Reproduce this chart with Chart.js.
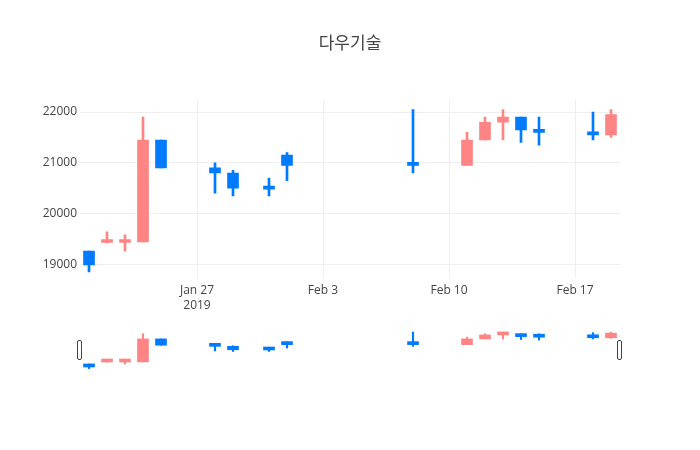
<!DOCTYPE html>
<html>
<head>
<meta charset="utf-8">
<script src="https://cdn.jsdelivr.net/npm/chart.js@4/dist/chart.umd.min.js"></script>
<style>
  body { margin: 0; background: #fff; }
  #wrap { position: relative; width: 700px; height: 450px; }
  #main { position: absolute; left: 0; top: 0; }
  #slider { position: absolute; left: 0; top: 330px; }
</style>
</head>
<body>
<div id="wrap">
  <canvas id="main" width="700" height="320"></canvas>
  <canvas id="slider" width="700" height="40"></canvas>
</div>
<script>
// data
var dates = ['2019-01-21', '2019-01-22', '2019-01-23', '2019-01-24', '2019-01-25',
             '2019-01-28', '2019-01-29', '2019-01-31', '2019-02-01', '2019-02-08',
             '2019-02-11', '2019-02-12', '2019-02-13', '2019-02-14', '2019-02-15',
             '2019-02-18', '2019-02-19'];
var opens  = [19260, 19430, 19430, 19440, 21450, 20900, 20800, 20520, 21150, 21000,
              20950, 21450, 21800, 21900, 21650, 21600, 21550];
var closes = [18990, 19450, 19450, 21450, 20900, 20800, 20500, 20480, 20950, 20950,
              21450, 21800, 21900, 21650, 21600, 21550, 21950];
var highs  = [19260, 19640, 19580, 21900, 21450, 21000, 20850, 20700, 21200, 22050,
              21600, 21900, 22050, 21900, 21900, 22000, 22050];
var lows   = [18850, 19420, 19260, 19440, 20900, 20400, 20350, 20350, 20650, 20800,
              20950, 21450, 21450, 21400, 21350, 21450, 21500];
var tickDates  = ['2019-01-27', '2019-02-03', '2019-02-10', '2019-02-17'];
var tickLabels = [['Jan 27', '2019'], 'Feb 3', 'Feb 10', 'Feb 17'];
var yTicks = [19000, 20000, 21000, 22000];

var UP = 'rgb(255,133,133)';
var DOWN = 'rgb(0,122,255)';

// days counted from Jan 27
var base = Date.UTC(2019, 0, 27);
function dayIdx(s) {
    var p = s.split('-');
    return (Date.UTC(+p[0], +p[1] - 1, +p[2]) - base) / 86400000;
}

var colors = dates.map(function(d, i) { return closes[i] >= opens[i] ? UP : DOWN; });
var bodies = dates.map(function(d, i) { return {x: dayIdx(d), y: [opens[i], closes[i]]}; });
var wicks = dates.map(function(d, i) { return {x: dayIdx(d), y: [lows[i], highs[i]]}; });
var tickPos = tickDates.map(dayIdx);

Chart.defaults.font.family = '"Open Sans", "Noto Sans CJK KR", sans-serif';
Chart.defaults.color = '#444';

function candleSets(wickWidth) {
    return [{
        data: wicks,
        backgroundColor: colors,
        barThickness: wickWidth,
        grouped: false
    }, {
        data: bodies,
        backgroundColor: colors,
        barThickness: 11,
        minBarLength: 3,
        grouped: false
    }];
}

var xMin = -6.5, xMax = 23.5, yMin = 18730, yMax = 22230;

new Chart(document.getElementById('main').getContext('2d'), {
    type: 'bar',
    data: { datasets: candleSets(2) },
    options: {
        responsive: false,
        animation: false,
        layout: { padding: 0 },
        plugins: {
            legend: { display: false },
            tooltip: { enabled: false },
            title: {
                display: true,
                text: '다우기술',
                color: '#444',
                font: { size: 17, weight: 'normal' },
                padding: { top: 34, bottom: 46 }
            }
        },
        scales: {
            x: {
                type: 'linear',
                min: xMin, max: xMax,
                offset: false,
                afterBuildTicks: function(scale) {
                    scale.ticks = tickPos.map(function(v) { return {value: v}; });
                },
                afterFit: function(scale) { scale.height = 42; },
                ticks: {
                    autoSkip: false,
                    maxRotation: 0,
                    padding: 5,
                    font: { size: 12, lineHeight: 1.25 },
                    callback: function(v) {
                        var k = tickPos.indexOf(v);
                        return k >= 0 ? tickLabels[k] : '';
                    }
                },
                grid: { color: '#eee', drawTicks: false, offset: false },
                border: { display: false }
            },
            y: {
                min: yMin, max: yMax,
                afterBuildTicks: function(scale) {
                    scale.ticks = yTicks.map(function(v) { return {value: v}; });
                },
                afterFit: function(scale) { scale.width = 80; },
                ticks: {
                    padding: 3,
                    font: { size: 12 },
                    callback: function(v) { return String(v); }
                },
                grid: { color: '#eee', drawTicks: false },
                border: { display: false }
            },
            // empty axis that keeps the right margin, so the title stays centred on the page
            right: {
                position: 'right',
                min: yMin, max: yMax,
                afterFit: function(scale) { scale.width = 80; },
                ticks: { display: false },
                grid: { display: false, drawTicks: false },
                border: { display: false }
            }
        }
    }
});

// little grips at both ends of the range slider
var grips = {
    id: 'grips',
    afterDraw: function(chart) {
        var c = chart.ctx, a = chart.chartArea;
        c.save();
        c.fillStyle = '#fff';
        c.strokeStyle = '#444';
        c.lineWidth = 1;
        [a.left - 2, a.right - 2].forEach(function(x) {
            c.beginPath();
            c.roundRect(x - 0.5, 10.5, 4, 19, 1.5);
            c.fill();
            c.stroke();
        });
        c.restore();
    }
};

new Chart(document.getElementById('slider').getContext('2d'), {
    type: 'bar',
    data: { datasets: candleSets(1.5) },
    options: {
        responsive: false,
        animation: false,
        layout: { padding: { left: 80, right: 80, top: 0, bottom: 0 } },
        plugins: { legend: { display: false }, tooltip: { enabled: false } },
        scales: {
            x: { type: 'linear', min: xMin, max: xMax, offset: false, display: false },
            y: { min: yMin, max: yMax, display: false }
        }
    },
    plugins: [grips]
});
</script>
</body>
</html>
